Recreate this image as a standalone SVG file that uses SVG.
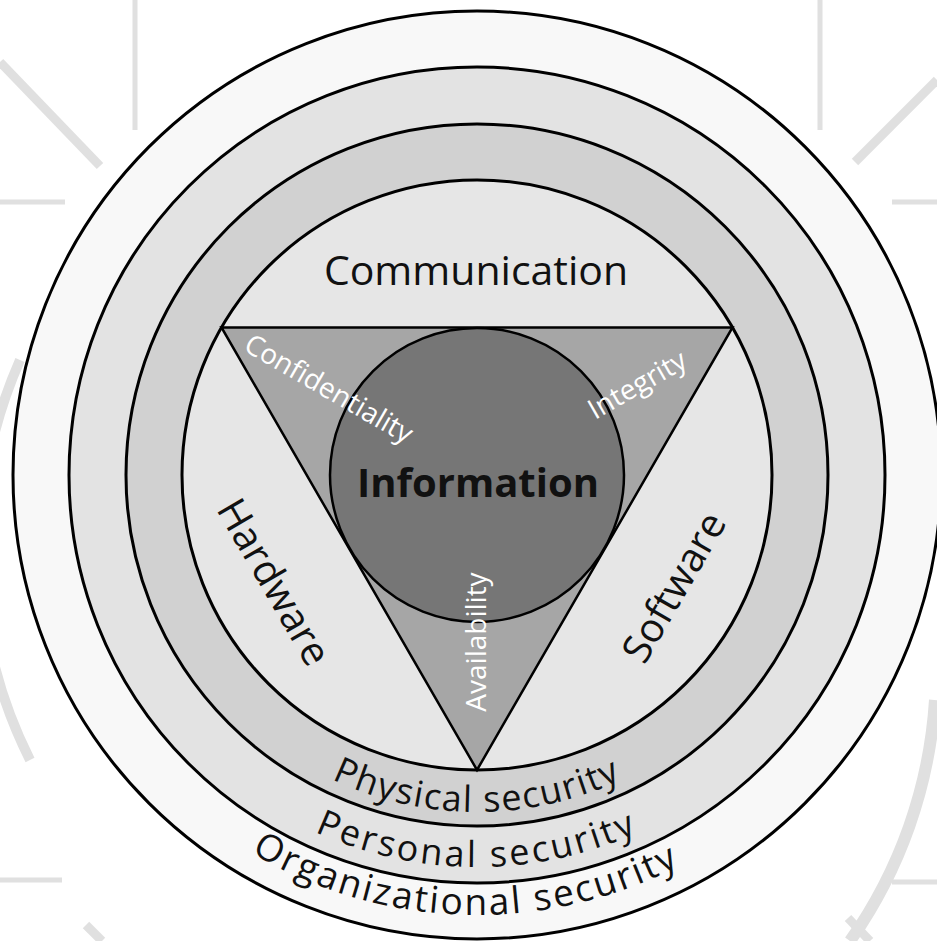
<svg xmlns="http://www.w3.org/2000/svg" width="937" height="941" viewBox="0 0 937 941">
<style>
.ring{stroke:#000;stroke-width:3}
.wm{stroke:#e0e0e0;fill:none;stroke-linecap:butt}
.lbl{font-family:"Open Sans","Noto Sans","Liberation Sans",sans-serif;fill:#111}
.wht{font-family:"Open Sans","Noto Sans","Liberation Sans",sans-serif;fill:#fff;font-size:28px;text-anchor:middle}
</style>
<defs>
<path id="arcPhys" d="M140,475 A337,337 0 0 0 814,475"/>
<path id="arcPers" d="M85,475 A392,392 0 0 0 869,475"/>
<path id="arcOrg" d="M37,475 A440,440 0 0 0 917,475"/>
</defs>
<rect width="937" height="941" fill="#fff"/>
<g id="watermark">
<line class="wm" x1="135" y1="0" x2="135" y2="130" stroke-width="5"/>
<line class="wm" x1="0" y1="62" x2="100" y2="166" stroke-width="9"/>
<line class="wm" x1="0" y1="202" x2="65" y2="202" stroke-width="5"/>
<line class="wm" x1="820" y1="0" x2="820" y2="130" stroke-width="5"/>
<line class="wm" x1="937" y1="80" x2="855" y2="162" stroke-width="9"/>
<line class="wm" x1="892" y1="202" x2="937" y2="202" stroke-width="5"/>
<line class="wm" x1="0" y1="880" x2="62" y2="880" stroke-width="5"/>
<line class="wm" x1="86" y1="925" x2="102" y2="941" stroke-width="9"/>
<line class="wm" x1="892" y1="882" x2="937" y2="882" stroke-width="5"/>
<line class="wm" x1="848" y1="918" x2="870" y2="941" stroke-width="9"/>
<path class="wm" d="M20,360 A470,470 0 0 0 30,760" stroke-width="10"/>
<path class="wm" d="M935,700 A470,470 0 0 1 850,941" stroke-width="12"/>
</g>
<g id="organizational-security">
<circle class="ring" cx="477" cy="475" r="464" fill="#f8f8f8"/>
</g>
<g id="personal-security">
<circle class="ring" cx="477" cy="475" r="408" fill="#e3e3e3"/>
</g>
<g id="physical-security">
<circle class="ring" cx="477" cy="475" r="351" fill="#d1d1d1"/>
</g>
<g id="inner">
<circle class="ring" cx="477" cy="475" r="295" fill="#e6e6e6"/>
</g>
<g id="triangle">
<polygon points="221.5,327.5 732.5,327.5 477,770" fill="#a6a6a6" stroke="#000" stroke-width="2.5" stroke-linejoin="miter"/>
</g>
<g id="information">
<circle cx="477" cy="475" r="147" fill="#767676" stroke="#000" stroke-width="2.5"/>
<text class="lbl" x="478" y="497" font-size="40" font-weight="bold" text-anchor="middle">Information</text>
</g>
<g id="labels">
<text class="lbl" x="476" y="285" font-size="41" text-anchor="middle">Communication</text>
<text class="lbl" font-size="40" text-anchor="middle" transform="translate(262,589) rotate(60)">Hardware</text>
<text class="lbl" font-size="40" text-anchor="middle" transform="translate(686,594) rotate(-60)">Software</text>
<text class="wht" transform="translate(324,397) rotate(30)">Confidentiality</text>
<text class="wht" transform="translate(642,393) rotate(-30)">Integrity</text>
<text class="wht" transform="translate(486,642) rotate(-90)">Availability</text>
<text class="lbl" font-size="36" letter-spacing="1.5"><textPath href="#arcPhys" startOffset="50%" text-anchor="middle">Physical security</textPath></text>
<text class="lbl" font-size="36" letter-spacing="2.8"><textPath href="#arcPers" startOffset="50%" text-anchor="middle">Personal security</textPath></text>
<text class="lbl" font-size="37" letter-spacing="2.3"><textPath href="#arcOrg" startOffset="49.1%" text-anchor="middle">Organizational security</textPath></text>
</g>
<g id="connectors"></g>
</svg>
